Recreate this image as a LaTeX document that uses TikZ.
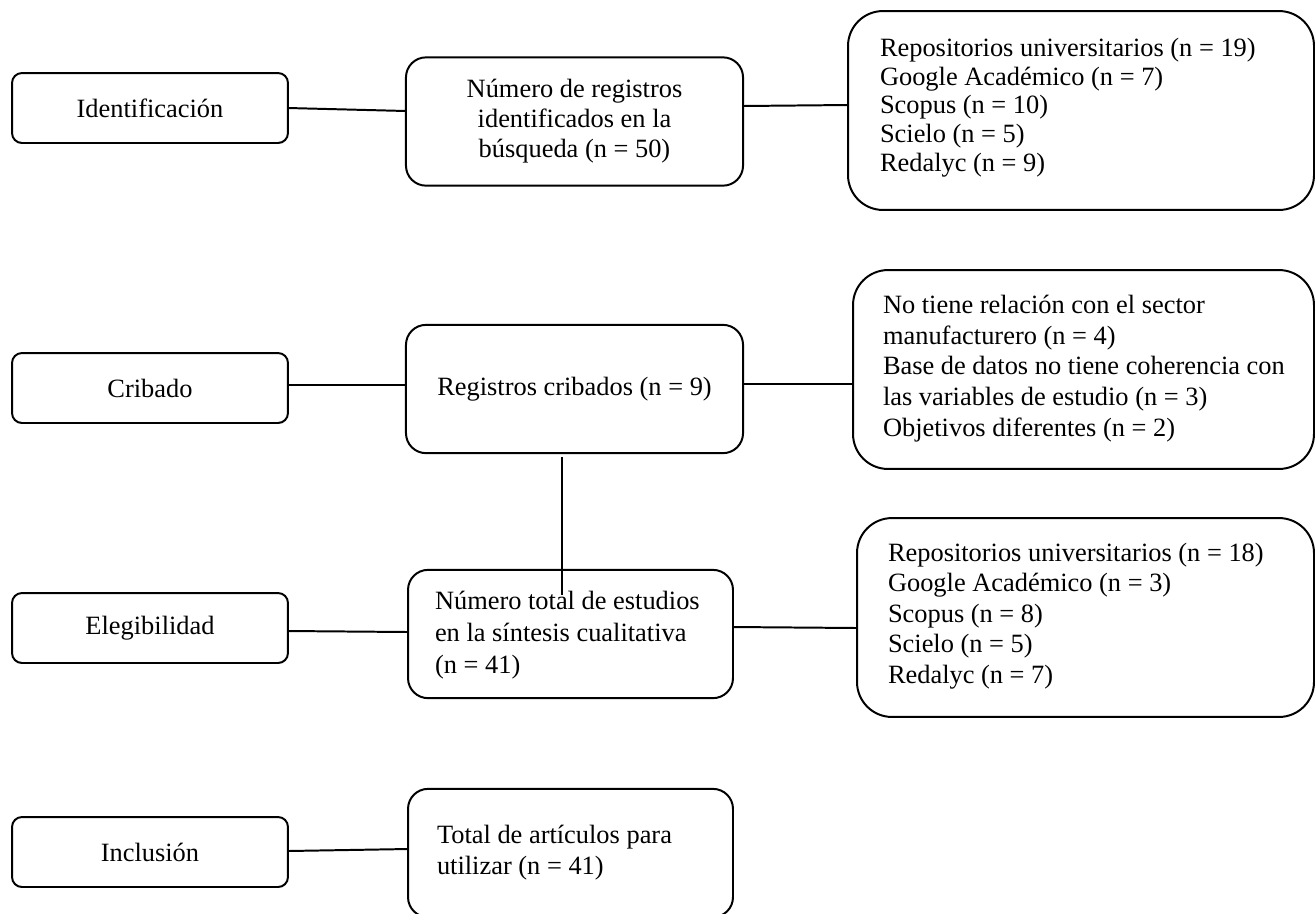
\documentclass[tikz,border=0pt]{standalone}
\usepackage{fontspec}
\setmainfont{Liberation Serif}
\usetikzlibrary{calc}
\begin{document}
\begin{tikzpicture}[x=0.4545pt,y=-0.4545pt,
  every node/.style={inner sep=0pt, outer sep=0pt, font=\fontsize{12}{13.6}\selectfont},
  box/.style={draw=black, line width=0.9pt, fill=white, rounded corners=#1},
  lbox/.style={box=4.5pt, minimum width=125.4pt, minimum height=31.8pt},
  mbox/.style={box=9.1pt, minimum height=58.3pt},
  rbox/.style={box=15.9pt, minimum height=90.4pt},
  txt/.style={align=left, anchor=west, font=\fontsize{12}{#1}\selectfont},
  link/.style={draw=black, line width=0.9pt}
]
\useasboundingbox (0,0) rectangle (1315,913);

% left column
\node[lbox] (ident) at (150,108) {Identificación};
\node[lbox] (crib) at (150,388) {Cribado};
\node[lbox] (eleg) at (150,628) {Elegibilidad};
\node[lbox] (incl) at (150,852) {Inclusión};

% middle column
\node[mbox, minimum width=153.2pt, align=center] (numreg) at (574.5,121.5)
  {Número de registros\\identificados en la\\búsqueda (n = 50)};
\node[mbox, minimum width=153.2pt] (regcrib) at (574.5,389) {Registros cribados (n = 9)};
\node[mbox, minimum width=147.7pt] (numtot) at (570.5,634) {};
\node[mbox, minimum width=147.7pt] (totart) at (570.5,853) {};
\node[txt=14.5] (numtott) at ($(numtot.west)+(27,1)$)
  {Número total de estudios\\en la síntesis cualitativa\\(n = 41)};
\node[txt=14.1] (totartt) at ($(totart.west)+(29,-0.5)$)
  {Total de artículos para\\utilizar (n = 41)};

% right column
\node[rbox, minimum width=211.8pt] (r1) at (1081,110.5) {};
\node[rbox, minimum width=209.5pt] (r2) at (1083.5,369.5) {};
\node[rbox, minimum width=207.7pt] (r3) at (1085.5,617.5) {};
\node[txt=13.05] (r1t) at ($(r1.west)+(32,-3)$)
  {Repositorios universitarios (n = 19)\\Google Académico (n = 7)\\Scopus (n = 10)\\Scielo (n = 5)\\Redalyc (n = 9)};
\node[txt=13.95] (r2t) at ($(r2.west)+(30,-1)$)
  {No tiene relación con el sector\\manufacturero (n = 4)\\Base de datos no tiene coherencia con\\las variables de estudio (n = 3)\\Objetivos diferentes (n = 2)};
\node[txt=13.9] (r3t) at ($(r3.west)+(31,-1.5)$)
  {Repositorios universitarios (n = 18)\\Google Académico (n = 3)\\Scopus (n = 8)\\Scielo (n = 5)\\Redalyc (n = 7)};

% connectors
\draw[link] (ident.east) -- ($(numreg.west)+(0,-10.5)$);
\draw[link] ($(numreg.east)+(0,-15.5)$) -- ($(r1.west)+(0,-5.5)$);
\draw[link] ($(crib.east)+(0,-3)$) -- ($(regcrib.west)+(0,-4)$);
\draw[link] ($(regcrib.east)+(0,-5)$) -- ($(r2.west)+(0,14.5)$);
\coordinate (vtop) at (562,457);
\coordinate (vbot) at (562,595);
\draw[link] (vtop) -- (vbot);
\draw[link] ($(eleg.east)+(0,3)$) -- ($(numtot.west)+(0,-2)$);
\draw[link] ($(numtot.east)+(0,-7)$) -- ($(r3.west)+(0,10.5)$);
\draw[link] ($(incl.east)+(0,-1)$) -- ($(totart.west)+(0,-4)$);
\end{tikzpicture}
\end{document}
